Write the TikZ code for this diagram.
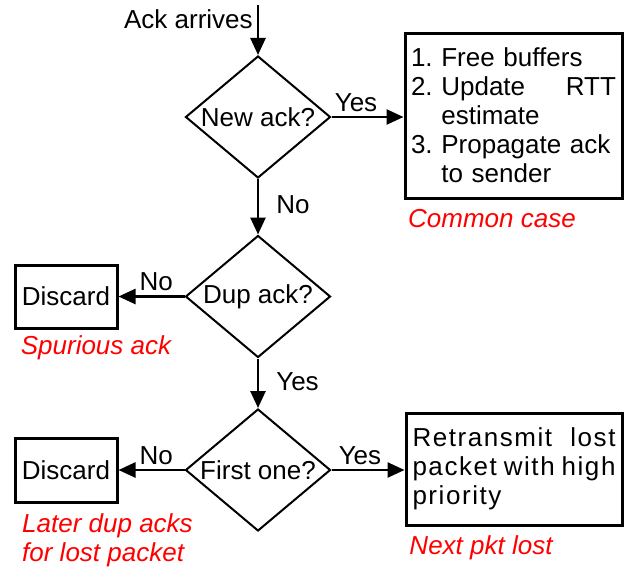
\documentclass[tikz,border=0pt]{standalone}
\usepackage{fontspec}
\setmainfont{Liberation Sans}
\usetikzlibrary{shapes.geometric,arrows.meta}
\tikzset{
  decision/.style={diamond, draw, line width=2pt, aspect=1.2, inner sep=0pt,
    minimum width=145pt, minimum height=122pt},
  action/.style={rectangle, draw, line width=3pt, inner sep=0pt},
  note/.style={red, font=\fontsize{26}{29}\selectfont\itshape, inner sep=0pt},
  flow/.style={-{Triangle[length=17pt,width=15pt]}, line width=2.6pt},
  answer/.style={inner sep=4pt}
}
\begin{document}
\begin{tikzpicture}[x=1pt, y=-1pt, font=\fontsize{26}{29}\selectfont]
  \useasboundingbox (0,0) rectangle (626,571);

  % Incoming ack
  \coordinate (start) at (258,5);
  \node[decision] (newack) at (258,117) {New ack?};
  \draw[flow] (start) -- node[answer, pos=0.29, left] {Ack arrives} (newack);

  % Common case
  \node[action, minimum width=217pt, minimum height=165pt, text width=205pt, align=left]
    (update) at (513.5,115.5) {1.~Free buffers\\
    2.~Update\hfill RTT\\
    \phantom{2.~}estimate\\
    3.~Propagate ack\\
    \phantom{3.~}to sender};
  \node[note] (common) at (492,219) {Common case};
  \draw[flow] (newack.east) -- node[answer, pos=0.34, above] {Yes} (newack.east -| update.west);

  % Duplicate ack
  \node[decision] (dupack) at (258,296.5) {Dup ack?};
  \draw[flow] (newack.south) -- node[answer, pos=0.46, right=13pt] {No} (dupack.north);
  \node[action, minimum width=102pt, minimum height=63pt] (discardA) at (66,296.5) {Discard};
  \node[note] (spurious) at (96,348) {Spurious ack};
  \draw[flow] (dupack.west) -- node[answer, pos=0.43, above] {No} (dupack.west -| discardA.east);

  % First duplicate
  \node[decision] (first) at (258,470) {First one?};
  \draw[flow] (dupack.south) -- node[answer, pos=0.46, right=13pt] {Yes} (first.north);
  \node[action, minimum width=102pt, minimum height=64pt] (discardB) at (66,470) {Discard};
  \node[note, align=left, anchor=west] (later) at (22,540.5) {Later dup acks\\for lost packet};
  \draw[flow] (first.west) -- node[answer, pos=0.43, above] {No} (first.west -| discardB.east);
  \node[action, minimum width=216pt, minimum height=112pt, text width=203pt, align=left]
    (retx) at (514,469) {\addfontfeature{LetterSpace=6}Retransmit\hfill lost\\
    packet\hfill with\hfill high\\
    priority};
  \node[note] (nextlost) at (481,548) {Next pkt lost};
  \draw[flow] (first.east) -- node[answer, pos=0.39, above] {Yes} (first.east -| retx.west);
\end{tikzpicture}
\end{document}
